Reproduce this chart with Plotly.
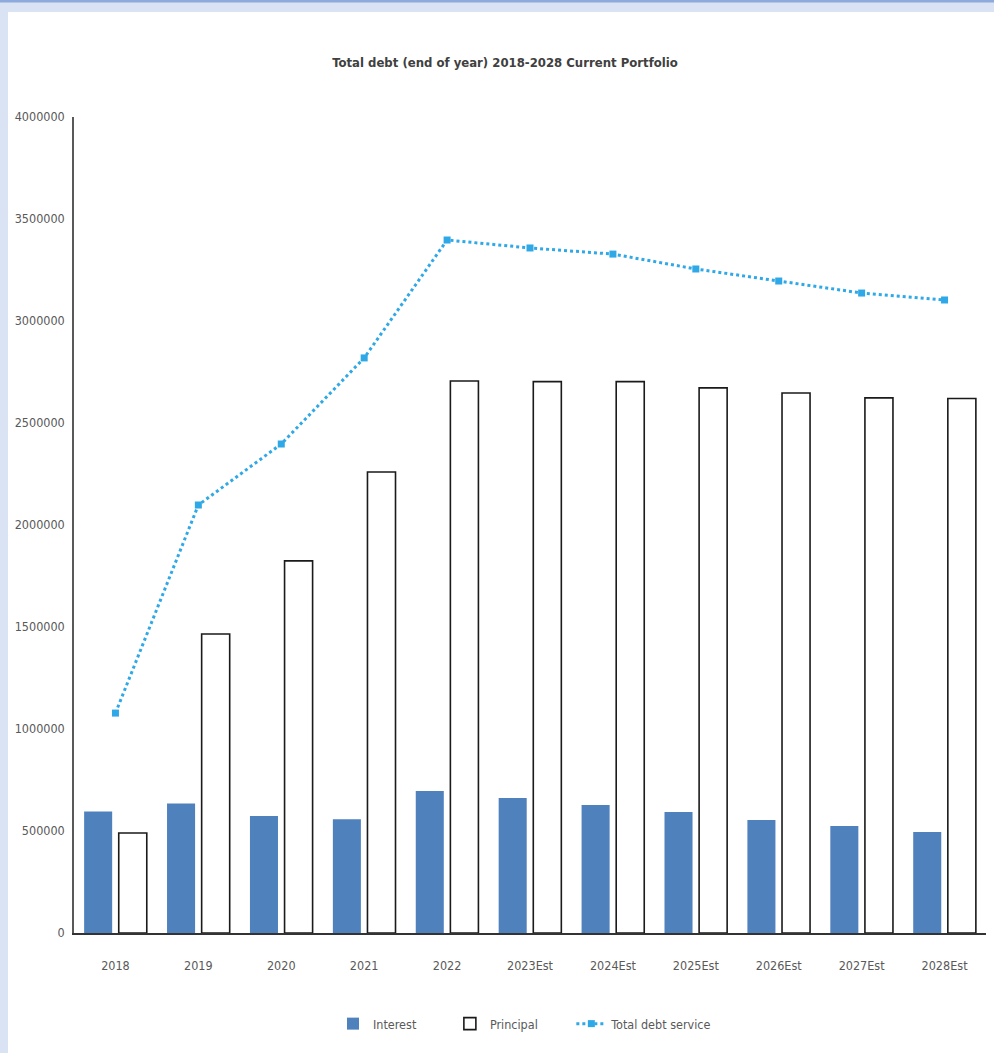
import plotly.graph_objects as go

categories = ["2018", "2019", "2020", "2021", "2022", "2023Est", "2024Est",
              "2025Est", "2026Est", "2027Est", "2028Est"]
interest = [595000, 635000, 574000, 557000, 696000, 662000, 627000,
            593000, 554000, 525000, 495000]
principal = [490000, 1466000, 1824000, 2260000, 2706000, 2703000, 2703000,
             2672000, 2647000, 2623000, 2620000]
total_debt_service = [1078000, 2098000, 2397000, 2819000, 3397000, 3358000,
                      3328000, 3255000, 3196000, 3137000, 3103000]
y_ticks = [0, 500000, 1000000, 1500000, 2000000, 2500000, 3000000,
           3500000, 4000000]

FONT = "DejaVu Sans Condensed, DejaVu Sans, sans-serif"
PAD = "\u00a0" * 8

fig = go.Figure()
fig.add_trace(go.Bar(
    name="Interest" + PAD, x=categories, y=interest,
    marker=dict(color="#4F81BD", line=dict(width=0)),
))
fig.add_trace(go.Bar(
    name="Principal" + PAD, x=categories, y=principal,
    marker=dict(color="#FFFFFF", line=dict(color="#1a1a1a", width=1.6)),
))
fig.add_trace(go.Scatter(
    name="Total debt service", x=categories, y=total_debt_service,
    mode="lines+markers",
    line=dict(color="#2EA8E6", width=3, dash="dot"),
    marker=dict(symbol="square", size=7, color="#2EA8E6"),
))

fig.add_shape(type="rect", xref="paper", yref="paper",
              x0=(8 - 74) / 912, x1=(1000 - 74) / 912,
              y0=(933 - 1060) / 816, y1=(933 - 12) / 816,
              fillcolor="#FFFFFF", line=dict(width=0), layer="below")
fig.add_shape(type="rect", xref="paper", yref="paper",
              x0=(0 - 74) / 912, x1=(1000 - 74) / 912,
              y0=(933 - 2.5) / 816, y1=(933 + 2) / 816,
              fillcolor="#8EA9DB", line=dict(width=0), layer="below")

fig.update_layout(
    width=994, height=1053,
    margin=dict(l=74, r=8, t=117, b=120),
    paper_bgcolor="#DAE3F3",
    plot_bgcolor="rgba(0,0,0,0)",
    font=dict(family=FONT, size=12.5, color="#595959"),
    title=dict(text="<b>Total debt (end of year) 2018-2028 Current Portfolio</b>",
               x=505 / 994, xanchor="center", y=1 - 62 / 1053, yanchor="middle",
               font=dict(family=FONT, size=13, color="#404040")),
    barmode="group", bargap=0.165, bargroupgap=0.19,
    showlegend=True,
    legend=dict(orientation="h", x=(333 - 74) / 912, xanchor="left",
                y=(933 - 1024) / 816, yanchor="middle",
                font=dict(family=FONT, size=12.5, color="#595959"),
                itemwidth=30, bgcolor="rgba(0,0,0,0)"),
    xaxis=dict(range=[-0.5, 10.5], showgrid=False, showline=True,
               linecolor="#333333", linewidth=2,
               ticks="", ticklabelstandoff=20, automargin=False,
               tickfont=dict(family=FONT, size=12.5, color="#595959")),
    yaxis=dict(range=[0, 4000000], tickvals=y_ticks,
               ticktext=[str(v) for v in y_ticks],
               showgrid=False, zeroline=False, showline=True,
               linecolor="#595959", linewidth=1.5, automargin=False,
               ticks="", ticklabelstandoff=5,
               tickfont=dict(family=FONT, size=12.5, color="#595959")),
)

fig.write_html("out.html",
               config={"displayModeBar": False},
               post_script="document.body.style.margin='0';"
                           "document.body.style.overflow='hidden';")
